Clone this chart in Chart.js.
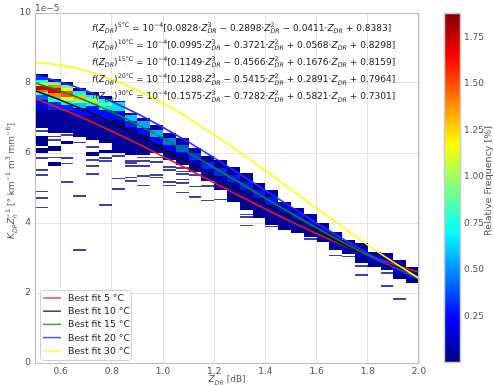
<!DOCTYPE html>
<html>
<head>
<meta charset="utf-8">
<script src="https://cdn.jsdelivr.net/npm/chart.js@4/dist/chart.umd.min.js"></script>
<style>
    html, body { margin: 0; padding: 0; background: #fff; }
    #wrap { width: 494px; height: 385px; position: relative; }
</style>
</head>
<body>
<div id="wrap"><canvas id="chart"></canvas></div>
<script>
// Fit curves (values in units of 1e-5)
const zdrGrid = [0.5, 0.6, 0.7, 0.8, 0.9, 1.0, 1.1, 1.2, 1.3, 1.4, 1.5, 1.6, 1.7, 1.8, 1.9, 2.0];
const fit5  = [7.56, 7.27, 6.96, 6.62, 6.27, 5.90, 5.53, 5.15, 4.77, 4.40, 4.04, 3.70, 3.38, 3.08, 2.82, 2.59];
const fit10 = [7.78, 7.51, 7.21, 6.88, 6.52, 6.14, 5.74, 5.34, 4.93, 4.53, 4.14, 3.76, 3.40, 3.07, 2.77, 2.51];
const fit15 = [8.00, 7.77, 7.49, 7.17, 6.81, 6.42, 6.01, 5.58, 5.15, 4.71, 4.28, 3.86, 3.46, 3.08, 2.74, 2.44];
const fit20 = [8.22, 8.03, 7.78, 7.47, 7.12, 6.73, 6.31, 5.86, 5.40, 4.93, 4.46, 4.00, 3.56, 3.13, 2.74, 2.39];
const fit30 = [8.59, 8.51, 8.35, 8.10, 7.79, 7.42, 6.99, 6.52, 6.02, 5.50, 4.96, 4.42, 3.89, 3.37, 2.88, 2.42];

const fitTemps = ['5', '10', '15', '20', '30'];
const fitLabels = ['Best fit 5 °C', 'Best fit 10 °C', 'Best fit 15 °C', 'Best fit 20 °C', 'Best fit 30 °C'];
const fitCoefs = [
    [0.0828, -0.2898, -0.0411, 0.8383],
    [0.0995, -0.3721, 0.0568, 0.8298],
    [0.1149, -0.4566, 0.1676, 0.8159],
    [0.1288, -0.5415, 0.2891, 0.7964],
    [0.1575, -0.7282, 0.5821, 0.7301]
];
const fitColors = ['#f01515', '#111111', '#0a8a0a', '#2a2aff', '#ffff00'];

// 2D histogram: x bins (left edges, width 0.05 dB)
const histBinLeft = [0.50, 0.55, 0.60, 0.65, 0.70, 0.75, 0.80, 0.85, 0.90, 0.95,
                     1.00, 1.05, 1.10, 1.15, 1.20, 1.25, 1.30, 1.35, 1.40, 1.45,
                     1.50, 1.55, 1.60, 1.65, 1.70, 1.75, 1.80, 1.85, 1.90, 1.95];
const binWidth = 0.05;
const yBinHeight = 0.05;

// dense cells: [column, yLow, yHigh, relative frequency %]
const denseCells = [
    [0, 8.18, 8.27, 0.08], [0, 8.09, 8.18, 0.35], [0, 8.00, 8.09, 0.75], [0, 7.92, 8.00, 1.2],
    [0, 7.81, 7.92, 1.75], [0, 7.75, 7.81, 1.45], [0, 7.67, 7.75, 0.8], [0, 7.52, 7.67, 0.4],
    [0, 7.24, 7.52, 0.18], [0, 6.72, 7.24, 0.04], [0, 6.20, 6.50, 0.03], [0, 6.00, 6.15, 0.03],
    [1, 8.04, 8.12, 0.08], [1, 7.95, 8.04, 0.9], [1, 7.87, 7.95, 1.4], [1, 7.72, 7.87, 1.7],
    [1, 7.61, 7.72, 1.4], [1, 7.47, 7.61, 0.75], [1, 7.24, 7.47, 0.3], [1, 6.58, 7.24, 0.05],
    [1, 6.05, 6.20, 0.03], [1, 5.63, 5.75, 0.03],
    [2, 7.95, 8.04, 0.1], [2, 7.87, 7.95, 0.9], [2, 7.78, 7.87, 1.2], [2, 7.60, 7.78, 1.5],
    [2, 7.50, 7.60, 1.1], [2, 7.38, 7.50, 0.7], [2, 7.20, 7.38, 0.3], [2, 6.58, 7.20, 0.05],
    [2, 6.25, 6.35, 0.03],
    [3, 7.77, 7.87, 0.06], [3, 7.67, 7.77, 0.7], [3, 7.52, 7.67, 1.3], [3, 7.43, 7.52, 0.95],
    [3, 7.28, 7.43, 0.6], [3, 7.05, 7.28, 0.25], [3, 6.47, 7.05, 0.05],
    [4, 7.65, 7.75, 0.06], [4, 7.56, 7.65, 0.7], [4, 7.43, 7.56, 1.0], [4, 7.33, 7.43, 0.7],
    [4, 7.05, 7.33, 0.25], [4, 6.38, 7.05, 0.05], [4, 5.90, 6.03, 0.03],
    [5, 7.55, 7.64, 0.06], [5, 7.43, 7.55, 0.7], [5, 7.33, 7.43, 0.9], [5, 7.24, 7.33, 0.65],
    [5, 6.95, 7.24, 0.25], [5, 6.30, 6.95, 0.05], [5, 6.00, 6.10, 0.03],
    [6, 7.45, 7.50, 0.06], [6, 7.20, 7.45, 0.65], [6, 6.95, 7.20, 0.25], [6, 6.00, 6.95, 0.05],
    [7, 7.09, 7.15, 0.06], [7, 6.90, 7.09, 0.6], [7, 6.75, 6.90, 0.3], [7, 6.45, 6.75, 0.1], [7, 5.95, 6.45, 0.04],
    [8, 6.92, 7.00, 0.06], [8, 6.72, 6.92, 0.55], [8, 6.52, 6.72, 0.25], [8, 5.95, 6.52, 0.04],
    [9, 6.67, 6.80, 0.06], [9, 6.47, 6.67, 0.55], [9, 6.25, 6.47, 0.25], [9, 6.00, 6.25, 0.04],
    [10, 6.44, 6.58, 0.06], [10, 6.24, 6.44, 0.45], [10, 6.05, 6.24, 0.2], [10, 5.81, 6.05, 0.04],
    [11, 6.24, 6.44, 0.06], [11, 6.04, 6.24, 0.4], [11, 5.85, 6.04, 0.15], [11, 5.67, 5.85, 0.04],
    [12, 6.00, 6.15, 0.06], [12, 5.80, 6.00, 0.32], [12, 5.65, 5.80, 0.15], [12, 5.47, 5.65, 0.04],
    [13, 5.75, 5.92, 0.06], [13, 5.55, 5.75, 0.3], [13, 5.40, 5.55, 0.14], [13, 5.20, 5.40, 0.04],
    [14, 5.58, 5.81, 0.06], [14, 5.35, 5.58, 0.3], [14, 5.15, 5.35, 0.14], [14, 4.95, 5.15, 0.04],
    [15, 5.38, 5.61, 0.06], [15, 5.18, 5.38, 0.28], [15, 4.95, 5.18, 0.12], [15, 4.61, 4.95, 0.04],
    [16, 5.18, 5.44, 0.06], [16, 4.95, 5.18, 0.28], [16, 4.70, 4.95, 0.12], [16, 4.38, 4.70, 0.04],
    [17, 4.95, 5.15, 0.06], [17, 4.72, 4.95, 0.28], [17, 4.45, 4.72, 0.12], [17, 4.15, 4.45, 0.04],
    [18, 4.75, 4.95, 0.06], [18, 4.52, 4.75, 0.28], [18, 4.25, 4.52, 0.12], [18, 3.95, 4.25, 0.04],
    [19, 4.47, 4.61, 0.06], [19, 4.30, 4.47, 0.25], [19, 4.05, 4.30, 0.1], [19, 3.81, 4.05, 0.04],
    [20, 4.30, 4.44, 0.06], [20, 4.10, 4.30, 0.25], [20, 3.90, 4.10, 0.1], [20, 3.72, 3.90, 0.04],
    [21, 4.10, 4.27, 0.06], [21, 3.90, 4.10, 0.24], [21, 3.61, 3.90, 0.05],
    [22, 3.85, 4.01, 0.06], [22, 3.68, 3.85, 0.22], [22, 3.47, 3.68, 0.05],
    [23, 3.60, 3.75, 0.06], [23, 3.42, 3.60, 0.22], [23, 3.24, 3.42, 0.05],
    [24, 3.40, 3.52, 0.06], [24, 3.25, 3.40, 0.2], [24, 3.10, 3.25, 0.05],
    [25, 3.25, 3.44, 0.06], [25, 3.05, 3.25, 0.2], [25, 2.87, 3.05, 0.05],
    [26, 3.05, 3.18, 0.06], [26, 2.90, 3.05, 0.18], [26, 2.75, 2.90, 0.05],
    [27, 2.98, 3.15, 0.06], [27, 2.82, 2.98, 0.18], [27, 2.67, 2.82, 0.05],
    [28, 2.78, 2.95, 0.06], [28, 2.58, 2.78, 0.18], [28, 2.41, 2.58, 0.05],
    [29, 2.60, 2.75, 0.06], [29, 2.45, 2.60, 0.16], [29, 2.29, 2.45, 0.05]
];

// single sparse bins: [column, y centre]
const sparseCells = [
    [0, 6.63], [0, 5.85], [0, 5.52], [0, 5.38], [0, 4.90], [0, 4.72], [0, 4.44],
    [1, 6.47], [1, 6.38], [1, 5.87],
    [2, 6.52], [2, 5.85], [2, 5.70], [2, 5.17],
    [3, 6.30], [3, 4.78], [3, 3.22],
    [4, 6.18], [4, 5.80], [4, 5.63], [4, 5.40],
    [5, 5.85], [5, 5.78], [5, 4.52],
    [6, 5.92], [6, 5.27], [6, 4.98],
    [7, 5.78], [7, 5.72], [7, 5.63], [7, 5.30], [7, 5.20],
    [8, 5.87], [8, 5.78], [8, 5.63], [8, 5.35], [8, 5.07],
    [9, 5.87], [9, 5.75], [9, 5.38], [9, 5.30],
    [10, 5.60], [10, 5.52], [10, 5.18], [10, 5.07],
    [11, 5.58], [11, 5.47], [11, 5.40], [11, 5.24], [11, 5.15], [11, 4.87],
    [12, 5.38], [12, 5.04], [12, 4.75],
    [13, 5.05], [13, 4.64], [14, 4.67],
    [16, 4.24], [16, 4.18], [16, 3.93], [18, 3.90], [21, 3.55],
    [23, 3.07], [24, 3.04], [25, 2.78], [25, 2.52],
    [27, 2.58], [27, 2.20], [28, 1.83]
];
const sparseFreq = 0.03;

const xTickValues = [0.6, 0.8, 1.0, 1.2, 1.4, 1.6, 1.8, 2.0];
const yTickValues = [0, 2, 4, 6, 8, 10];
const cbTickValues = [0.25, 0.5, 0.75, 1.0, 1.25, 1.5, 1.75];
const cbMax = 1.88;

const FONT = '"DejaVu Sans", sans-serif';
const TICK_COLOR = '#555';

function jet(t) {
    t = Math.max(0, Math.min(1, t));
    const c = v => Math.round(255 * Math.max(0, Math.min(1, v)));
    return `rgb(${c(1.5 - Math.abs(4 * t - 3))},${c(1.5 - Math.abs(4 * t - 2))},${c(1.5 - Math.abs(4 * t - 1))})`;
}

// simple mathtext: parts = [{t, it, sub, sup}]
function drawMath(ctx, parts, size, x, y, draw) {
    let cx = x;
    const small = size * 0.7;
    for (const p of parts) {
        ctx.font = (p.it ? 'italic ' : '') + size + 'px ' + FONT;
        if (draw) ctx.fillText(p.t, cx, y);
        cx += ctx.measureText(p.t).width;
        let w = 0;
        if (p.sub) {
            ctx.font = 'italic ' + small + 'px ' + FONT;
            if (draw) ctx.fillText(p.sub, cx, y + size * 0.28);
            w = ctx.measureText(p.sub).width;
        }
        if (p.sup) {
            ctx.font = small + 'px ' + FONT;
            if (draw) ctx.fillText(p.sup, cx, y - size * 0.42);
            w = Math.max(w, ctx.measureText(p.sup).width);
        }
        cx += w;
    }
    return cx - x;
}

function fmtCoef(v, first) {
    const s = Math.abs(v).toFixed(4);
    if (first) return s;
    return (v < 0 ? ' \u2212 ' : ' + ') + s;
}

function formulaParts(i) {
    const [a, b, c, d] = fitCoefs[i];
    return [
        { t: 'f', it: true }, { t: '(' }, { t: 'Z', it: true, sub: 'DR' },
        { t: ')', sup: fitTemps[i] + '\u00b0C' },
        { t: ' = 10', sup: '\u22124' },
        { t: '[' + fmtCoef(a, true) + '\u00b7' }, { t: 'Z', it: true, sub: 'DR', sup: '3' },
        { t: fmtCoef(b) + '\u00b7' }, { t: 'Z', it: true, sub: 'DR', sup: '2' },
        { t: fmtCoef(c) + '\u00b7' }, { t: 'Z', it: true, sub: 'DR' },
        { t: fmtCoef(d) + ']' }
    ];
}

const heatmapPlugin = {
    id: 'heatmap',
    beforeDatasetsDraw(chart) {
        const { ctx, chartArea: a, scales: { x, y } } = chart;
        ctx.save();
        ctx.beginPath();
        ctx.rect(a.left, a.top, a.width, a.height);
        ctx.clip();
        const cell = (col, lo, hi, f) => {
            const x0 = Math.round(x.getPixelForValue(histBinLeft[col]));
            const x1 = Math.round(x.getPixelForValue(histBinLeft[col] + binWidth));
            const y0 = Math.round(y.getPixelForValue(hi));
            const y1 = Math.round(y.getPixelForValue(lo));
            ctx.fillStyle = jet(f / cbMax);
            ctx.fillRect(x0, y0, x1 - x0, Math.max(1, y1 - y0));
        };
        denseCells.forEach(c => cell(...c));
        ctx.globalAlpha = 0.75;
        sparseCells.forEach(([col, v]) => cell(col, v - yBinHeight / 2, v + yBinHeight / 2, sparseFreq));
        ctx.restore();
    }
};

const overlayPlugin = {
    id: 'overlay',
    afterDraw(chart) {
        const { ctx, chartArea: a } = chart;
        ctx.save();

        // spines
        ctx.strokeStyle = '#bbbbbb';
        ctx.lineWidth = 1;
        ctx.strokeRect(a.left + 0.5, a.top + 0.5, a.width - 1, a.height);

        // fit equations
        ctx.fillStyle = '#222';
        ctx.textBaseline = 'alphabetic';
        ctx.textAlign = 'left';
        const w0 = drawMath(ctx, formulaParts(0), 10, 0, 0, false);
        const fsize = 10 * 300 / w0;
        fitCoefs.forEach((_, i) => {
            drawMath(ctx, formulaParts(i), fsize, a.left + 57, a.top + 17.7 + i * 17.1, true);
        });

        // legend
        const lx = a.left + 5, ly = a.top + 277, lw = 91, lh = 70;
        ctx.fillStyle = 'rgba(255,255,255,0.85)';
        ctx.strokeStyle = '#d0d0d0';
        ctx.beginPath();
        ctx.roundRect(lx + 0.5, ly + 0.5, lw, lh, 3);
        ctx.fill();
        ctx.stroke();
        ctx.font = '9.3px ' + FONT;
        ctx.textBaseline = 'middle';
        fitLabels.forEach((lab, i) => {
            const yy = ly + 8 + i * 13.2;
            ctx.strokeStyle = fitColors[i];
            ctx.globalAlpha = 0.8;
            ctx.lineWidth = 1.5;
            ctx.beginPath();
            ctx.moveTo(lx + 3, yy);
            ctx.lineTo(lx + 21, yy);
            ctx.stroke();
            ctx.globalAlpha = 1;
            ctx.fillStyle = '#222';
            ctx.fillText(lab, lx + 28, yy + 0.5);
        });

        // offset text
        ctx.fillStyle = TICK_COLOR;
        ctx.font = '9px ' + FONT;
        ctx.textBaseline = 'alphabetic';
        ctx.fillText('1e\u22125', a.left, a.top - 2);

        // x title
        const xParts = [{ t: 'Z', it: true, sub: 'DR' }, { t: ' [dB]' }];
        const xw = drawMath(ctx, xParts, 9, 0, 0, false);
        ctx.fillStyle = TICK_COLOR;
        drawMath(ctx, xParts, 9, (a.left + a.right) / 2 - xw / 2, a.bottom + 19, true);

        // y title
        const yParts = [
            { t: 'K', it: true, sub: 'DP' }, { t: 'Z', it: true, sub: 'h', sup: '\u22121' },
            { t: ' [\u00b0 km', sup: '\u22121' }, { t: ' m', sup: '3' }, { t: ' mm', sup: '\u22126' }, { t: ']' }
        ];
        const yw = drawMath(ctx, yParts, 9, 0, 0, false);
        ctx.save();
        ctx.translate(a.left - 21, 181);
        ctx.rotate(-Math.PI / 2);
        ctx.fillStyle = TICK_COLOR;
        drawMath(ctx, yParts, 9, -yw / 2, 0, true);
        ctx.restore();

        // colorbar
        const cx0 = a.right + 25, cw = 17;
        const ctop = a.top, cbot = a.bottom;
        for (let py = ctop; py < cbot; py++) {
            const v = (cbot - py - 0.5) / (cbot - ctop) * cbMax;
            ctx.fillStyle = jet(v / cbMax);
            ctx.fillRect(cx0, py, cw, 1);
        }
        ctx.strokeStyle = '#cccccc';
        ctx.strokeRect(cx0 + 0.5, ctop + 0.5, cw - 1, cbot - ctop - 1);
        ctx.fillStyle = TICK_COLOR;
        ctx.font = '9px ' + FONT;
        ctx.textBaseline = 'middle';
        cbTickValues.forEach(v => {
            const py = cbot - v / cbMax * (cbot - ctop);
            ctx.fillText(v.toFixed(2), cx0 + cw + 3, py);
        });
        ctx.save();
        ctx.translate(cx0 + cw + 28, 181);
        ctx.rotate(-Math.PI / 2);
        ctx.textAlign = 'center';
        ctx.font = '9.5px ' + FONT;
        ctx.fillText('Relative Frequency [%]', 0, 0);
        ctx.restore();

        ctx.restore();
    }
};

const fitSeries = [fit5, fit10, fit15, fit20, fit30];

new Chart(document.getElementById('chart'), {
    type: 'line',
    data: {
        datasets: fitSeries.map((vals, i) => ({
            label: fitLabels[i],
            data: zdrGrid.map((z, k) => ({ x: z, y: vals[k] })),
            borderColor: fitColors[i],
            borderWidth: 1.6,
            pointRadius: 0,
            cubicInterpolationMode: 'monotone',
            fill: false,
            order: 5 - i
        }))
    },
    options: {
        responsive: true,
        maintainAspectRatio: false,
        animation: false,
        devicePixelRatio: 1,
        layout: { padding: { left: 0, right: 75, top: 13, bottom: 0 } },
        plugins: {
            legend: { display: false },
            tooltip: { enabled: false }
        },
        scales: {
            x: {
                type: 'linear',
                min: 0.5,
                max: 2.0,
                afterBuildTicks: (s) => { s.ticks = xTickValues.map(v => ({ value: v })); },
                afterFit: (s) => { s.height = 22; },
                grid: { color: '#e4e4e4', drawTicks: false },
                border: { display: false },
                ticks: {
                    padding: 3,
                    color: TICK_COLOR,
                    font: { family: FONT, size: 9 },
                    callback: (v) => Number(v).toFixed(1)
                }
            },
            y: {
                type: 'linear',
                min: 0,
                max: 10,
                afterBuildTicks: (s) => { s.ticks = yTickValues.map(v => ({ value: v })); },
                afterFit: (s) => { s.width = 35; },
                grid: { color: '#e4e4e4', drawTicks: false },
                border: { display: false },
                ticks: {
                    padding: 4,
                    color: TICK_COLOR,
                    font: { family: FONT, size: 9 },
                    callback: (v) => String(v)
                }
            }
        }
    },
    plugins: [heatmapPlugin, overlayPlugin]
});
</script>
</body>
</html>
